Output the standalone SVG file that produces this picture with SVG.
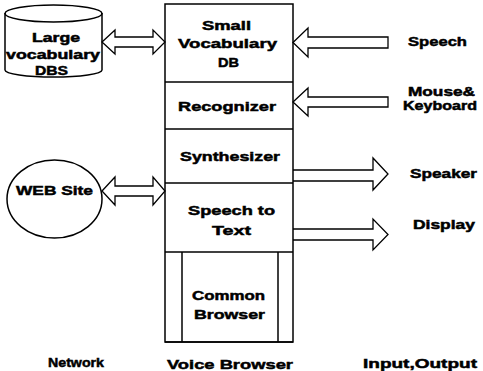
<svg xmlns="http://www.w3.org/2000/svg" width="483" height="371" viewBox="0 0 483 371">
<style>
.ln{fill:none;stroke:#000;stroke-width:1.5}
.ar{fill:#fff;stroke:#000;stroke-width:1.3;stroke-linejoin:miter}
.t{font-family:"Liberation Sans",Arial,sans-serif;font-weight:bold;font-size:13.5px;fill:#000;stroke:#000;stroke-width:0.5}
.s{font-size:12.5px}
.m{text-anchor:middle}
</style>
<rect width="483" height="371" fill="#fff"/>
<g id="connectors">
<path class="ar" d="M102,42 L115,30 L115,37 L153,37 L153,30 L165,42 L153,54 L153,47 L115,47 L115,54 Z"/>
<path class="ar" d="M102,191 L115,177 L115,186 L153,186 L153,177 L165,191 L153,205 L153,196 L115,196 L115,205 Z"/>
<path class="ar" d="M293,42.5 L308,28 L308,37 L388,37 L388,48 L308,48 L308,57 Z"/>
<path class="ar" d="M293,102 L308,88 L308,97 L388,97 L388,107 L308,107 L308,116 Z"/>
<path class="ar" d="M293,170 L373,170 L373,158 L388,174 L373,190 L373,181 L293,181"/>
<path class="ar" d="M293,229 L373,229 L373,219 L388,234.5 L373,250 L373,240 L293,240"/>
</g>
<g id="large-vocabulary-dbs">
<path class="ln" d="M5,13 L5,70 A48.5,7 0 0 0 102,70 L102,13" fill="#fff"/>
<ellipse class="ln" cx="53.5" cy="13.5" rx="48.5" ry="8.5"/>
<text class="t s m" x="56" y="42" textLength="48" lengthAdjust="spacingAndGlyphs">Large</text>
<text class="t s m" x="53" y="59" textLength="94" lengthAdjust="spacingAndGlyphs">vocabulary</text>
<text class="t s m" x="51.5" y="75" textLength="33" lengthAdjust="spacingAndGlyphs">DBS</text>
</g>
<g id="web-site">
<ellipse class="ln" cx="54.5" cy="199" rx="47.5" ry="39"/>
<text class="t m" x="54.5" y="195" textLength="77" lengthAdjust="spacingAndGlyphs">WEB Site</text>
</g>
<g id="voice-browser">
<rect class="ln" x="165" y="4" width="128" height="338"/>
<line class="ln" x1="165" y1="342" x2="293" y2="342" stroke-width="3"/>
</g>
<g id="small-vocabulary-db">
<text class="t m" x="226.5" y="30" textLength="49" lengthAdjust="spacingAndGlyphs">Small</text>
<text class="t m" x="227.5" y="48" textLength="99" lengthAdjust="spacingAndGlyphs">Vocabulary</text>
<text class="t m" x="228.5" y="67" textLength="21" lengthAdjust="spacingAndGlyphs">DB</text>
</g>
<g id="recognizer">
<line class="ln" x1="165" y1="82" x2="293" y2="82"/>
<text class="t m" x="227" y="111" textLength="98" lengthAdjust="spacingAndGlyphs">Recognizer</text>
</g>
<g id="synthesizer">
<line class="ln" x1="165" y1="129" x2="293" y2="129"/>
<text class="t m" x="230" y="161" textLength="100" lengthAdjust="spacingAndGlyphs">Synthesizer</text>
</g>
<g id="speech-to-text">
<line class="ln" x1="165" y1="183" x2="293" y2="183"/>
<text class="t m" x="231.5" y="215" textLength="87" lengthAdjust="spacingAndGlyphs">Speech to</text>
<text class="t m" x="231.5" y="235" textLength="39" lengthAdjust="spacingAndGlyphs">Text</text>
</g>
<g id="common-browser">
<line class="ln" x1="165" y1="252" x2="293" y2="252"/>
<line class="ln" x1="182" y1="252" x2="182" y2="342"/>
<line class="ln" x1="278" y1="252" x2="278" y2="342"/>
<text class="t m" x="228.5" y="300" textLength="73" lengthAdjust="spacingAndGlyphs">Common</text>
<text class="t m" x="229.5" y="319" textLength="71" lengthAdjust="spacingAndGlyphs">Browser</text>
</g>
<g id="io-labels">
<text class="t" x="408" y="46" textLength="59" lengthAdjust="spacingAndGlyphs">Speech</text>
<text class="t s" x="408" y="96" textLength="67" lengthAdjust="spacingAndGlyphs">Mouse&amp;</text>
<text class="t s" x="403" y="110" textLength="74" lengthAdjust="spacingAndGlyphs">Keyboard</text>
<text class="t" x="410" y="178" textLength="67" lengthAdjust="spacingAndGlyphs">Speaker</text>
<text class="t" x="413" y="229" textLength="62" lengthAdjust="spacingAndGlyphs">Display</text>
</g>
<g id="column-labels">
<text class="t" x="48" y="367" textLength="56" lengthAdjust="spacingAndGlyphs">Network</text>
<text class="t" x="167" y="369" textLength="126" lengthAdjust="spacingAndGlyphs">Voice Browser</text>
<text class="t" x="363" y="368" textLength="114" lengthAdjust="spacingAndGlyphs">Input,Output</text>
</g>
</svg>
